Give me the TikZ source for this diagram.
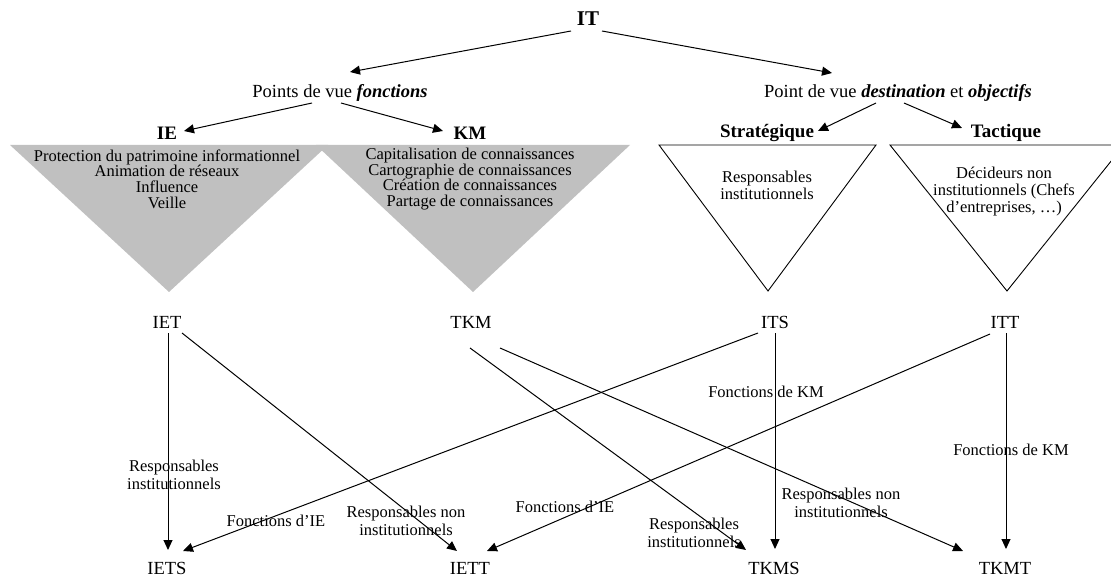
\documentclass[tikz,border=0pt]{standalone}
\usepackage{fontspec}
\setmainfont{Liberation Serif}
\usetikzlibrary{arrows.meta,calc}
\definecolor{silverg}{RGB}{192,192,192}
\begin{document}
\begin{tikzpicture}[x=1pt,y=-1pt,
  lbl/.style={inner sep=0pt, align=center, font=\fontsize{16.5}{18}\selectfont},
  tlist/.style={inner sep=0pt, align=center, font=\fontsize{16.5}{15.7}\selectfont},
  big/.style={inner sep=0pt, font=\fontsize{18.5}{22}\selectfont},
  hd/.style={inner sep=0pt, font=\bfseries\fontsize{19}{22}\selectfont},
  arr/.style={line width=1pt, -{Triangle[length=10pt,width=9pt]}},
  tri/.style={line width=0.9pt}]
\useasboundingbox (0,0) rectangle (1111,577);
\clip (0,0) rectangle (1111,577);
% triangles
\fill[silverg] (10,145) -- (328,145) -- (169,292) -- cycle;
\fill[silverg] (316,145) -- (630,145) -- (473,292) -- cycle;
\draw[tri] (659,145) -- (876,145) -- (768,291) -- cycle;
\draw[tri] (890,145) -- (1124,145) -- (1007,291) -- cycle;
% top nodes
\node[hd, font=\bfseries\fontsize{21}{24}\selectfont] (IT) at (588,19) {IT};
\node[big] (PVF) at (340,93) {Points de vue \textbf{\textit{fonctions}}};
\node[big] (PVD) at (898,93) {Point de vue \textbf{\textit{destination}} et \textbf{\textit{objectifs}}};
\node[hd] (IE) at (167,133) {IE};
\node[hd] (KM) at (470,133) {KM};
\node[hd] (STR) at (767,133) {Stratégique};
\node[hd] (TAC) at (1006,133) {Tactique};
% triangle texts
\node[tlist] (ieT) at (167,179) {Protection du patrimoine informationnel\\Animation de réseaux\\Influence\\Veille};
\node[tlist] (kmT) at (470,179) {Capitalisation de connaissances\\Cartographie de connaissances\\Création de connaissances\\Partage de connaissances};
\node[lbl, font=\fontsize{16.5}{17}\selectfont] (stT) at (767,185) {Responsables\\institutionnels};
\node[lbl, font=\fontsize{16.5}{17}\selectfont] (taT) at (1004,192) {Décideurs non\\institutionnels (Chefs\\d’entreprises, …)};
% middle and bottom nodes
\node[big] (IET) at (167,322) {IET};
\node[big] (TKM) at (471,322) {TKM};
\node[big] (ITS) at (775,322) {ITS};
\node[big] (ITT) at (1005,322) {ITT};
\node[big] (IETS) at (167,568) {IETS};
\node[big] (IETT) at (470,568) {IETT};
\node[big] (TKMS) at (774,568) {TKMS};
\node[big] (TKMT) at (1005,568) {TKMT};
% edge labels
\node[lbl] (l1) at (174,475) {Responsables\\institutionnels};
\node[lbl] (l2) at (406,521) {Responsables non\\institutionnels};
\node[lbl] (l3) at (276,521) {Fonctions d’IE};
\node[lbl] (l4) at (565,507) {Fonctions d’IE};
\node[lbl] (l5) at (694,533) {Responsables\\institutionnels};
\node[lbl] (l6) at (841,503) {Responsables non\\institutionnels};
\node[lbl] (l7) at (766,392) {Fonctions de KM};
\node[lbl] (l8) at (1011,450) {Fonctions de KM};
% upper arrows
\draw[arr] ($(IT)+(-17,12)$) -- ($(PVF)+(10,-21)$);
\draw[arr] ($(IT)+(14,12)$) -- ($(PVD)+(-66,-20)$);
\draw[arr] ($(PVF)+(-28,10)$) -- ($(IE)+(17,-2)$);
\draw[arr] ($(PVF)+(1,10)$) -- ($(KM)+(-27,-2)$);
\draw[arr] ($(PVD)+(-22,10)$) -- ($(STR)+(51,-2)$);
\draw[arr] ($(PVD)+(6,10)$) -- ($(TAC)+(-44,-5)$);
% lower arrows
\draw[arr] ($(IET)+(1,11)$) -- ($(IETS)+(1,-18)$);
\draw[arr] ($(IET)+(15,11)$) -- ($(IETT)+(-13,-17)$);
\draw[arr] ($(TKM)+(-1,26)$) -- ($(TKMS)+(-28,-18)$);
\draw[arr] ($(TKM)+(29,26)$) -- ($(TKMT)+(-42,-17)$);
\draw[arr] ($(ITS)+(-17,11)$) -- ($(IETS)+(16,-17)$);
\draw[arr] ($(ITS)+(0,11)$) -- ($(TKMS)+(1,-19)$);
\draw[arr] ($(ITT)+(-15,12)$) -- ($(IETT)+(17,-17)$);
\draw[arr] ($(ITT)+(1,11)$) -- ($(TKMT)+(1,-19)$);
\end{tikzpicture}
\end{document}
